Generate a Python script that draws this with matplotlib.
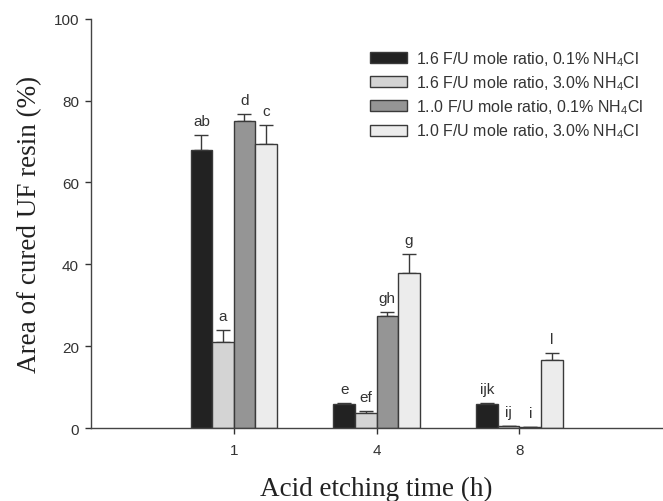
import numpy as np
import matplotlib
matplotlib.use('Agg')
import matplotlib.pyplot as plt

plt.rcParams['font.family'] = 'Liberation Sans'
plt.rcParams['mathtext.fontset'] = 'custom'
plt.rcParams['mathtext.rm'] = 'Liberation Sans'
plt.rcParams['mathtext.default'] = 'regular'

# Data
times = ['1', '4', '8']
series = ['1.6 F/U mole ratio, 0.1% NH$_4$Cl',
          '1.6 F/U mole ratio, 3.0% NH$_4$Cl',
          '1..0 F/U mole ratio, 0.1% NH$_4$Cl',
          '1.0 F/U mole ratio, 3.0% NH$_4$Cl']
means = [[68.0, 6.0, 5.8],
         [21.1, 3.7, 0.6],
         [75.1, 27.4, 0.25],
         [69.3, 38.0, 16.7]]
errs = [[3.5, 0.2, 0.3],
        [2.9, 0.6, 0.0],
        [1.6, 1.0, 0.0],
        [4.7, 4.6, 1.7]]
letters = [['ab', 'e', 'ijk'],
           ['a', 'ef', 'ij'],
           ['d', 'gh', 'i'],
           ['c', 'g', 'l']]

colors = ['#222222', '#d4d4d4', '#959595', '#ececec']
edge = '#3a3a3a'

fig = plt.figure(figsize=(6.63, 5.02), dpi=100)
ax = fig.add_axes([0.137, 0.145, 0.862, 0.816])

x = np.arange(1, len(times) + 1)
w = 0.151
for i in range(len(series)):
    pos = x + (i - 1.5) * w
    m = np.array(means[i])
    e = np.array(errs[i])
    ax.bar(pos, m, w, color=colors[i], edgecolor=edge, linewidth=1.0,
           label=series[i], zorder=2)
    ax.errorbar(pos, m, yerr=[np.zeros_like(e), e], fmt='none', ecolor=edge,
                elinewidth=1.0, capsize=5, capthick=1.0, zorder=1)
    for xp, top, lab in zip(pos, m + e, letters[i]):
        ax.annotate(lab, (xp, top), textcoords='offset points', xytext=(0, 5),
                    ha='center', va='bottom', fontsize=11, color='#333333')

ax.set_xlim(0, 4)
ax.set_ylim(0, 100)
ax.set_xticks(x)
ax.set_xticklabels(times)
ax.set_yticks([0, 20, 40, 60, 80, 100])
ax.tick_params(direction='out', length=4.5, width=1, labelsize=11,
               colors='#333333')
ax.tick_params(axis='x', pad=6)
ax.tick_params(axis='y', pad=4)
for s in ['top', 'right']:
    ax.spines[s].set_visible(False)
for s in ['left', 'bottom']:
    ax.spines[s].set_color('#444444')
    ax.spines[s].set_linewidth(1.0)

ax.set_xlabel('Acid etching time (h)', family='Liberation Serif', fontsize=19.5,
              labelpad=14, color='#222222')
ax.set_ylabel('Area of cured UF resin (%)', family='Liberation Serif', fontsize=19.5,
              labelpad=8, color='#222222')

leg = ax.legend(loc='upper right', bbox_to_anchor=(0.992, 0.961), frameon=False,
                fontsize=11.5, handlelength=2.35, handleheight=0.69,
                labelspacing=0.35, handletextpad=0.55)
for t in leg.get_texts():
    t.set_color('#333333')

plt.savefig('out.png', dpi=100)
